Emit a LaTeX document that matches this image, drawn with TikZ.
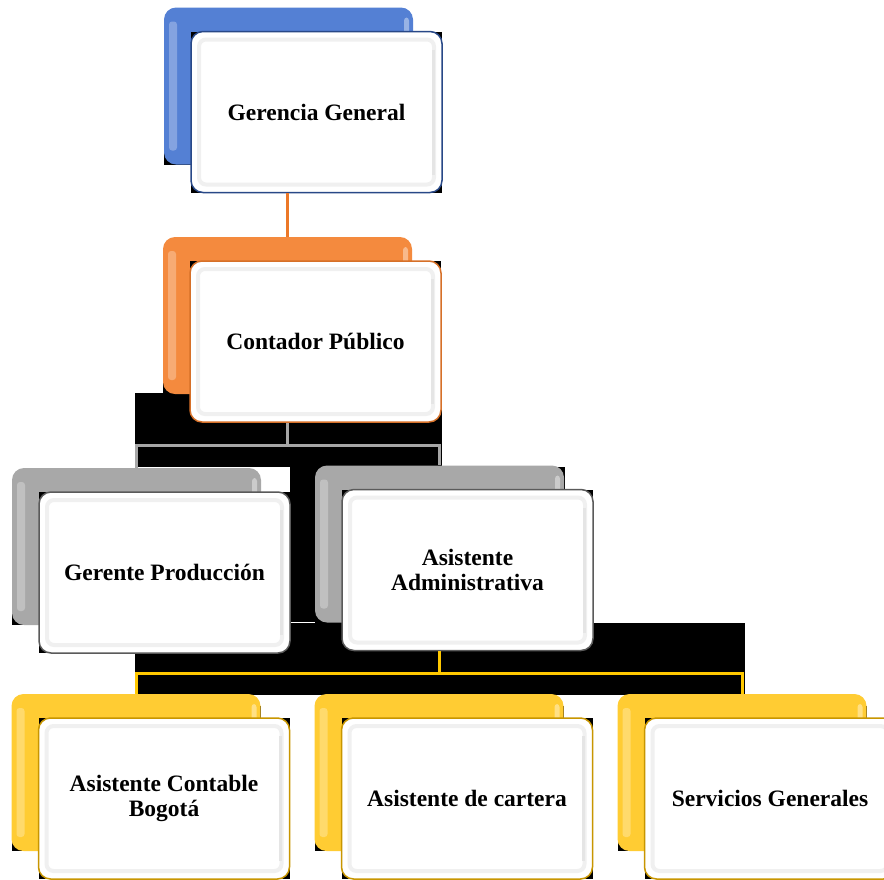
\documentclass[tikz,border=0pt]{standalone}
\usepackage{fontspec}
\setmainfont{Liberation Serif}
\definecolor{cblue}{RGB}{84,128,212}
\definecolor{corange}{RGB}{244,138,62}
\definecolor{cgray}{RGB}{168,168,168}
\definecolor{cyellow}{RGB}{255,204,51}
\definecolor{bblue}{RGB}{40,72,135}
\definecolor{borange}{RGB}{214,112,40}
\definecolor{bgray}{RGB}{90,90,90}
\definecolor{byellow}{RGB}{200,150,0}
\definecolor{lorange}{RGB}{236,120,40}
\definecolor{lgray}{RGB}{166,166,166}
\definecolor{lyellow}{RGB}{255,200,0}
\tikzset{
  backbox/.style={rounded corners=12pt, minimum width=249pt, minimum height=157pt, inner sep=0pt, fill=#1},
  frontbox/.style={rounded corners=12pt, minimum width=251pt, minimum height=161pt, inner sep=0pt,
    fill=white, draw=#1, line width=1.5pt, font=\bfseries\fontsize{23.5}{25}\selectfont, align=center},
  shade blk/.style={fill=black},
  conn/.style={line width=3pt, draw=#1},
}
% #1 name, #2 back colour, #3 border colour, #4 cx, #5 cy, #6 text
\newcommand\orgunit[6]{%
  \fill[shade blk] (#4-28-124.5, #5-26-78.5+12) rectangle (#4-28+124.5, #5-26+78.5);
  \node[backbox=#2] (#1b) at (#4-28,#5-26) {};
  \fill[#2!72!white, rounded corners=3pt] (#4-28-124.5+5, #5-26-78.5+14) rectangle (#4-28-124.5+13, #5-26+78.5-14);
  \fill[#2!60!white, rounded corners=3pt] (#4-28+124.5-9, #5-26-78.5+10) rectangle (#4-28+124.5-4, #5-26-78.5+40);
  \fill[shade blk] (#4-125.5, #5-80.5) rectangle (#4+125.5, #5+80.5);
  \node[frontbox=#3] (#1) at (#4,#5) {#6};
  \draw[black!6, line width=4pt, rounded corners=7pt] (#4-125.5+8, #5-80.5+8) rectangle (#4+125.5-8, #5+80.5-8);
  \draw[black!10, line width=3pt] (#4+125.5-9, #5-80.5+18) -- (#4+125.5-9, #5+80.5-18);
}
\begin{document}
\begin{tikzpicture}[x=1pt, y=-1pt]
  \useasboundingbox (0,0) rectangle (884,879);
  \clip (0,0) rectangle (884,879);
  \fill[white] (0,0) rectangle (884,879);
  % dark areas behind the connectors
  \fill[shade blk] (135,393) rectangle (442,467);
  \fill[shade blk] (290,467) rectangle (565,622);
  \fill[shade blk] (135,623) rectangle (745,695);
  % units
  \orgunit{gg}{cblue}{bblue}{316.5}{112}{Gerencia General}
  \orgunit{cp}{corange}{borange}{315.5}{341.5}{Contador Público}
  \orgunit{gp}{cgray}{bgray}{164.5}{572.5}{Gerente Producción}
  \orgunit{aa}{cgray}{bgray}{467.5}{570}{Asistente\\Administrativa}
  \orgunit{ac}{cyellow}{byellow}{164}{798.5}{Asistente Contable\\Bogotá}
  \orgunit{ca}{cyellow}{byellow}{467}{798.5}{Asistente de cartera}
  \orgunit{sg}{cyellow}{byellow}{770}{798.5}{Servicios Generales}
  % connectors
  \draw[conn=lorange] (cpb.north |- gg.south) -- (cpb.north);
  \draw[conn=lgray] (cpb.north |- cp.south) -- ++(0,23) -| (gpb.north);
  \draw[conn=lgray] (cpb.north |- cp.south) -- ++(0,23) -| (aab.north);
  \draw[conn=lyellow] (aab.south |- aa.south) -- ++(0,22) -| (acb.north);
  \draw[conn=lyellow] (aab.south |- aa.south) -- ++(0,22) -| (sgb.north);
\end{tikzpicture}
\end{document}
